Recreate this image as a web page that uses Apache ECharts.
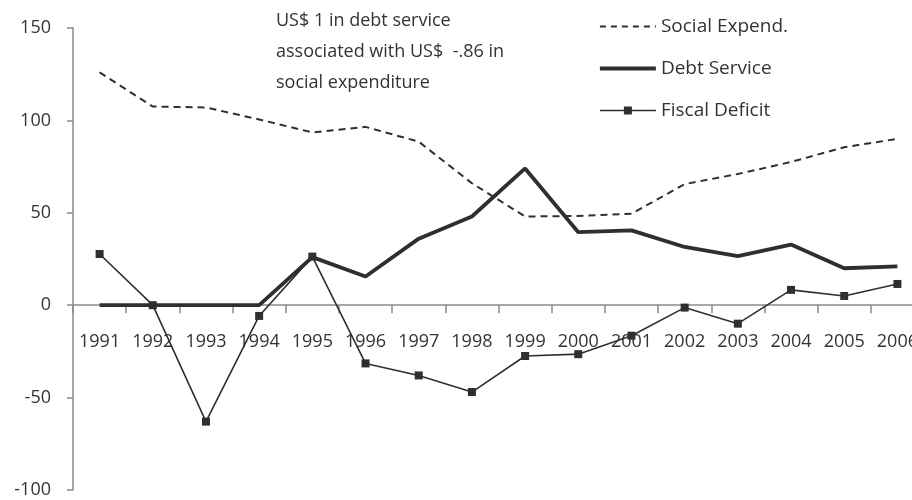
<!DOCTYPE html>
<html>
<head>
<meta charset="utf-8">
<script src="https://cdn.jsdelivr.net/npm/echarts@6/dist/echarts.min.js"></script>
<style>
  html, body { margin: 0; background: #fff; }
  #chart { width: 912px; height: 500px; }
</style>
</head>
<body>
<div id="chart"></div>
<script>
var years = ['1991', '1992', '1993', '1994', '1995', '1996', '1997', '1998',
  '1999', '2000', '2001', '2002', '2003', '2004', '2005', '2006'];
var socialExpend = [126, 107.5, 107, 100.5, 93.5, 96.5, 88.5, 66, 48, 48.3, 49.5, 65.5, 71, 77.5, 85.5, 90];
var debtService = [0, 0, 0, 0, 26, 15.5, 36, 48, 74, 39.5, 40.5, 31.5, 26.5, 32.8, 20, 21];
var fiscalDeficit = [27.7, 0, -63, -5.8, 26.3, -31.5, -38, -47, -27.5, -26.5, -16.5, -1.3, -10, 8.3, 5, 11.5];
var noteLines = ['US$ 1 in debt service', 'associated with US$  -.86 in', 'social expenditure'];
var yMin = -100, yMax = 150;

var ink = '#2f2f2f';
var axisGrey = '#8a8a8a';
var font = '"Open Sans", sans-serif';
var gridTop = 28, gridBottom = 10;
var gridHeight = 500 - gridTop - gridBottom;
// move the category axis up to the zero line
var zeroOffset = -gridHeight * (0 - yMin) / (yMax - yMin);

var chart = echarts.init(document.getElementById('chart'));

chart.setOption({
  animation: false,
  textStyle: { fontFamily: font },
  grid: { left: 73, right: -12, top: gridTop, bottom: gridBottom, outerBoundsMode: 'none' },
  legend: {
    orient: 'vertical',
    left: 593,
    top: 12,
    itemWidth: 56,
    itemHeight: 10,
    itemGap: 23,
    textStyle: { fontSize: 19, color: '#333', fontFamily: font },
    data: [
      { name: 'Social Expend.', itemStyle: { opacity: 0 }, lineStyle: { width: 2, type: [6, 5] } },
      { name: 'Debt Service', itemStyle: { opacity: 0 }, lineStyle: { width: 3.8 } },
      { name: 'Fiscal Deficit', lineStyle: { width: 1.6 } }
    ]
  },
  graphic: [{
    type: 'text',
    left: 276,
    top: 5,
    style: {
      text: noteLines.join('\n'),
      fontSize: 18,
      lineHeight: 31,
      fill: '#333',
      fontFamily: font
    }
  }],
  xAxis: {
    type: 'category',
    data: years,
    boundaryGap: true,
    offset: zeroOffset,
    axisLine: { onZero: false, lineStyle: { color: axisGrey, width: 1.5 } },
    axisTick: { show: true, length: 8, inside: false, lineStyle: { color: axisGrey, width: 1.5 } },
    axisLabel: { interval: 0, margin: 28, fontSize: 18, color: '#333' },
    splitLine: { show: false }
  },
  yAxis: {
    type: 'value',
    min: yMin,
    max: yMax,
    interval: 50,
    axisLine: { show: true, lineStyle: { color: axisGrey, width: 1.5 } },
    axisTick: { show: true, length: 6, lineStyle: { color: axisGrey, width: 1.5 } },
    axisLabel: { margin: 22, fontSize: 18, color: '#333' },
    splitLine: { show: false }
  },
  series: [{
    name: 'Social Expend.',
    type: 'line',
    data: socialExpend,
    showSymbol: false,
    lineStyle: { color: ink, width: 2, type: [7, 5] },
    itemStyle: { color: ink }
  }, {
    name: 'Debt Service',
    type: 'line',
    data: debtService,
    showSymbol: false,
    lineStyle: { color: ink, width: 3.8 },
    itemStyle: { color: ink }
  }, {
    name: 'Fiscal Deficit',
    type: 'line',
    data: fiscalDeficit,
    symbol: 'rect',
    symbolSize: 8,
    lineStyle: { color: ink, width: 1.6 },
    itemStyle: { color: ink }
  }]
});
</script>
</body>
</html>
